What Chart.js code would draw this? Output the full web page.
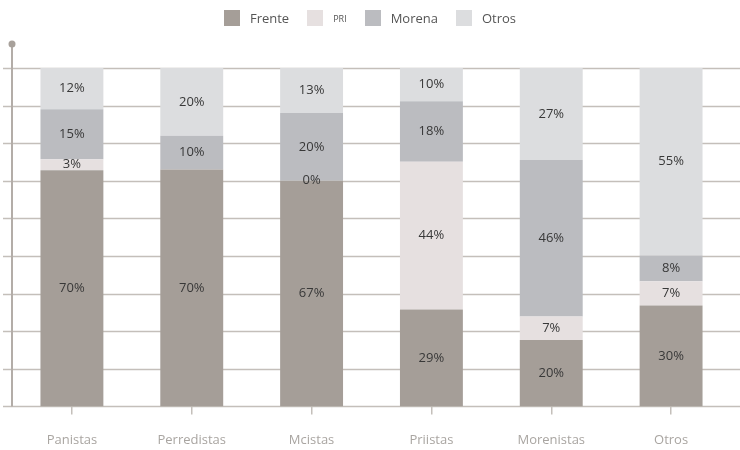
<!DOCTYPE html>
<html>
<head>
<meta charset="utf-8">
<script src="https://cdn.jsdelivr.net/npm/chart.js@4/dist/chart.umd.min.js"></script>
<style>
  html, body { margin: 0; padding: 0; background: #fff; }
  #wrap { position: relative; width: 740px; height: 450px; }
  #legend {
    position: absolute; top: 9px; left: 0; width: 740px;
    display: flex; justify-content: center; align-items: center;
    font-family: "Open Sans", sans-serif; font-size: 13px; color: #555;
  }
  #legend .item { display: flex; align-items: center; margin: 0 9px; }
  #legend .box { width: 16px; height: 16px; margin-right: 10px; }
  #legend .small { font-size: 9px; }
</style>
</head>
<body>
<div id="wrap">
  <canvas id="votosChart" width="740" height="450"></canvas>
  <div id="legend"></div>
</div>
<script>
const categorias = ['Panistas','Perredistas','Mcistas','Priistas','Morenistas','Otros'];
const frente  = [69.8, 70.0, 66.7, 28.6, 19.6, 29.8];
const pri     = [3.2,  null, 0,    43.7, 7.0,  7.2];
const morena  = [14.8, 10.0, 20.0, 17.9, 46.2, 7.6];
const otros   = [12.2, 20.0, 13.3, 9.8,  27.2, 55.4];

const series = ['Frente','PRI','Morena','Otros'];
const colores = ['#a59e98','#e6e0e0','#bbbcc0','#dcdddf'];

const lineColor = '#c4bfba';

// legend in html so PRI can be small like the original
const legend = document.getElementById('legend');
series.forEach((s, i) => {
  const item = document.createElement('div');
  item.className = 'item';
  item.innerHTML = '<div class="box" style="background:' + colores[i] + '"></div>' +
    '<span' + (s === 'PRI' ? ' class="small"' : '') + '>' + s + '</span>';
  legend.appendChild(item);
});

const gridPlugin = {
  id: 'gridPlugin',
  beforeDatasetsDraw(chart) {
    const ctx = chart.ctx;
    const area = chart.chartArea;
    const y = chart.scales.y;
    ctx.save();
    ctx.strokeStyle = lineColor;
    ctx.lineWidth = 1.5;
    y.ticks.forEach(t => {
      const py = Math.round(y.getPixelForValue(t.value)) + 0.5;
      ctx.beginPath();
      ctx.moveTo(3, py);
      ctx.lineTo(chart.width, py);
      ctx.stroke();
    });
    // vertical axis with dot on top
    ctx.strokeStyle = '#b3ada8';
    ctx.lineWidth = 2;
    ctx.beginPath();
    ctx.moveTo(area.left, 44);
    ctx.lineTo(area.left, y.getPixelForValue(0));
    ctx.stroke();
    ctx.fillStyle = '#a8a19b';
    ctx.beginPath();
    ctx.arc(area.left, 44, 3.5, 0, Math.PI * 2);
    ctx.fill();
    ctx.restore();
  }
};

const labelPlugin = {
  id: 'labelPlugin',
  afterDatasetsDraw(chart) {
    const ctx = chart.ctx;
    ctx.save();
    ctx.font = '13px "Open Sans", sans-serif';
    ctx.fillStyle = '#383838';
    ctx.textAlign = 'center';
    ctx.textBaseline = 'middle';
    chart.data.datasets.forEach((ds, i) => {
      chart.getDatasetMeta(i).data.forEach((bar, j) => {
        const v = ds.data[j];
        if (v === null) return;
        ctx.fillText(Math.round(v) + '%', bar.x, (bar.y + bar.base) / 2);
      });
    });
    ctx.restore();
  }
};

new Chart(document.getElementById('votosChart'), {
  type: 'bar',
  data: {
    labels: categorias,
    datasets: [
      { label: 'Frente', data: frente, backgroundColor: colores[0] },
      { label: 'PRI', data: pri, backgroundColor: colores[1] },
      { label: 'Morena', data: morena, backgroundColor: colores[2] },
      { label: 'Otros', data: otros, backgroundColor: colores[3] }
    ]
  },
  options: {
    responsive: false,
    animation: false,
    devicePixelRatio: 1,
    layout: { padding: { top: 68, left: 12, right: 9, bottom: -16 } },
    plugins: { legend: { display: false }, tooltip: { enabled: false } },
    datasets: { bar: { barPercentage: 0.525, categoryPercentage: 1 } },
    scales: {
      x: {
        stacked: true,
        border: { display: false },
        grid: { offset: false, drawOnChartArea: false, drawTicks: true, tickLength: 8, color: lineColor, lineWidth: 1.5 },
        ticks: { color: '#a9a5a1', padding: 18, font: { family: 'Open Sans', size: 13 } }
      },
      y: {
        stacked: true,
        display: false,
        min: 0,
        max: 100,
        ticks: { stepSize: 100 / 9 }
      }
    }
  },
  plugins: [gridPlugin, labelPlugin]
});
</script>
</body>
</html>
